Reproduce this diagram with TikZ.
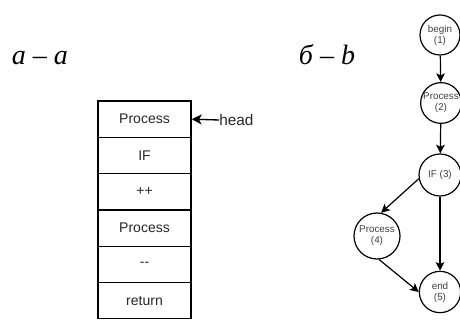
\documentclass[tikz,border=0pt]{standalone}
\usepackage{xcolor}
\usepackage{fontspec}
\setmainfont{Liberation Serif}
\setsansfont{Liberation Sans}
\usepackage{tikz}
\usetikzlibrary{arrows.meta, positioning}

\begin{document}
\begin{tikzpicture}[x=0.75pt, y=-0.75pt,
  cell/.style={draw, line width=1pt, minimum width=69.75pt, minimum height=27.2pt,
    inner sep=0pt, font=\sffamily\fontsize{10.5}{12}\selectfont, text=black!85},
  vertex/.style={draw, circle, line width=0.9pt, minimum size=30pt, inner sep=0pt,
    align=center, font=\sffamily\fontsize{7.4}{8.2}\selectfont, text=black!75},
  edge/.style={line width=0.9pt, -{Stealth[length=6.5pt, width=6.5pt, inset=1.5pt]}},
  caption/.style={font=\fontsize{21}{25}\selectfont\itshape}]
\useasboundingbox (0,0) rectangle (460,320);

% captions
\node[caption, anchor=base] (capa) at (40,65) {a – a};
\node[caption, anchor=base] (capb) at (327,65) {б – b};

% stack
\foreach \t [count=\i] in {Process, IF, ++, Process, -{}-, return}
  \node[cell] (s\i) at (144.5, {101+36.3*(\i-0.5)}) {\t};
\node[anchor=west, inner sep=0pt, font=\sffamily\fontsize{11.5}{13}\selectfont, text=black!85] (head) at (219,120) {head};
\draw[line width=1pt, -{Stealth[length=7.5pt, width=7.5pt, inset=2pt]}] (head.west) -- (s1.east);

% graph
\node[vertex] (begin) at (440,35) {begin\\(1)};
\node[vertex] (p2) at (441,103) {Process\\(2)};
\node[vertex, minimum size=31.5pt] (if) at (440,175) {IF (3)};
\node[vertex, minimum size=34.5pt] (p4) at (377,236) {Process\\(4)};
\node[vertex, minimum size=31pt] (end) at (440,292) {end\\(5)};

\draw[edge] (begin) -- (p2);
\draw[edge] (p2) -- (if);
\draw[edge] (if.190) -- (p4.80);
\draw[edge] (if) -- (end);
\draw[edge] (p4.-85) -- (end.west);

\end{tikzpicture}
\end{document}
